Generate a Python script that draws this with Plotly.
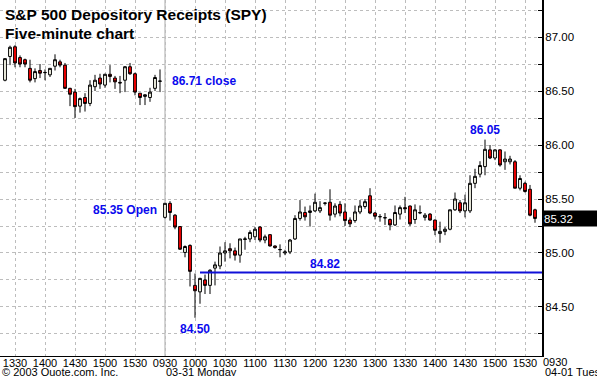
import plotly.graph_objects as go

# ---- Day 1 (03-28), five-minute bars from 13:20 to 15:55 ----
day1_open = [86.60, 86.82, 86.91, 86.81, 86.79, 86.71, 86.615, 86.69, 86.67, 86.65,
             86.73, 86.77, 86.74, 86.525, 86.49, 86.36, 86.44, 86.385, 86.54, 86.62,
             86.555, 86.655, 86.62, 86.58, 86.60, 86.725, 86.66, 86.48, 86.45, 86.44,
             86.525, 86.59]
day1_high = [86.80, 86.92, 86.925, 86.83, 86.80, 86.79, 86.71, 86.75, 86.70, 86.71,
             86.84, 86.79, 86.76, 86.53, 86.52, 86.44, 86.48, 86.60, 86.65, 86.66,
             86.66, 86.74, 86.64, 86.64, 86.73, 86.76, 86.67, 86.48, 86.47, 86.53,
             86.65, 86.70]
day1_low = [86.59, 86.74, 86.72, 86.72, 86.72, 86.58, 86.58, 86.62, 86.60, 86.63,
            86.69, 86.72, 86.52, 86.36, 86.25, 86.30, 86.31, 86.36, 86.50, 86.52,
            86.53, 86.58, 86.52, 86.48, 86.49, 86.65, 86.46, 86.37, 86.37, 86.40,
            86.50, 86.49]
day1_close = [86.80, 86.905, 86.76, 86.75, 86.75, 86.60, 86.68, 86.665, 86.672, 86.71,
              86.79, 86.74, 86.525, 86.47, 86.355, 86.43, 86.385, 86.555, 86.60, 86.565,
              86.655, 86.635, 86.585, 86.575, 86.725, 86.66, 86.49, 86.44, 86.465, 86.49,
              86.625, 86.592]

# ---- Day 2 (03-31 Monday), five-minute bars from 09:30 to 15:40 ----
day2_open = [85.33, 85.46, 85.35, 85.245, 85.005, 85.07, 84.70, 84.64, 84.75, 84.70,
             84.86, 84.88, 85.00, 85.04, 85.02, 84.98, 85.125, 85.13, 85.15, 85.24,
             85.12, 85.17, 85.065, 85.03, 85.00, 85.01, 85.13, 85.32, 85.375, 85.375,
             85.39, 85.39, 85.46, 85.47, 85.36, 85.45, 85.38, 85.305, 85.30, 85.38,
             85.43, 85.53, 85.37, 85.335, 85.325, 85.31, 85.26, 85.36, 85.42, 85.435,
             85.31, 85.375, 85.33, 85.36, 85.305, 85.18, 85.20, 85.22, 85.40, 85.465,
             85.39, 85.39, 85.645, 85.73, 85.80, 85.955, 85.88, 85.955, 85.845, 85.845,
             85.845, 85.60, 85.645, 85.59, 85.40]
day2_high = [85.46, 85.48, 85.36, 85.25, 85.07, 85.08, 84.81, 84.77, 84.80, 84.85,
             84.92, 85.06, 85.10, 85.09, 85.05, 85.13, 85.15, 85.21, 85.24, 85.25,
             85.17, 85.17, 85.07, 85.08, 85.03, 85.13, 85.35, 85.49, 85.43, 85.44,
             85.55, 85.48, 85.47, 85.59, 85.46, 85.48, 85.46, 85.33, 85.44, 85.49,
             85.50, 85.60, 85.38, 85.36, 85.37, 85.32, 85.44, 85.44, 85.52, 85.44,
             85.45, 85.44, 85.37, 85.37, 85.31, 85.29, 85.24, 85.40, 85.56, 85.49,
             85.54, 85.72, 85.78, 85.85, 86.05, 86.00, 85.96, 85.96, 85.94, 85.90,
             85.86, 85.72, 85.66, 85.63, 85.41]
day2_low = [85.32, 85.30, 85.22, 85.03, 84.96, 84.69, 84.40, 84.53, 84.62, 84.62,
            84.70, 84.85, 84.92, 84.95, 84.93, 84.91, 85.03, 85.10, 85.12, 85.10,
            85.09, 85.06, 85.04, 84.96, 84.98, 84.99, 85.12, 85.30, 85.30, 85.245,
            85.38, 85.37, 85.44, 85.30, 85.33, 85.34, 85.25, 85.24, 85.28, 85.36,
            85.41, 85.36, 85.31, 85.29, 85.26, 85.21, 85.25, 85.31, 85.37, 85.25,
            85.27, 85.36, 85.30, 85.30, 85.165, 85.095, 85.165, 85.21, 85.39, 85.37,
            85.33, 85.37, 85.60, 85.70, 85.72, 85.87, 85.86, 85.80, 85.77, 85.82,
            85.60, 85.58, 85.56, 85.34, 85.28]
day2_close = [85.46, 85.375, 85.24, 85.035, 85.06, 84.83, 84.65, 84.765, 84.70, 84.84,
              84.89, 85.00, 85.02, 85.02, 84.98, 85.13, 85.13, 85.19, 85.22, 85.12,
              85.15, 85.065, 85.05, 85.032, 85.01, 85.12, 85.32, 85.38, 85.335, 85.39,
              85.47, 85.42, 85.462, 85.35, 85.435, 85.37, 85.30, 85.27, 85.38, 85.435,
              85.475, 85.37, 85.34, 85.337, 85.327, 85.26, 85.375, 85.42, 85.41, 85.27,
              85.40, 85.372, 85.35, 85.305, 85.21, 85.20, 85.22, 85.40, 85.50, 85.39,
              85.465, 85.645, 85.71, 85.81, 85.96, 85.88, 85.955, 85.815, 85.87, 85.87,
              85.60, 85.69, 85.57, 85.35, 85.32]

# ---- axis labels ----
day1_ticks = ["1330", "1400", "1430", "1500", "1530"]
day2_ticks = ["0930", "1000", "1030", "1100", "1130", "1200", "1230", "1300",
              "1330", "1400", "1430", "1500", "1530"]
next_day_tick = "0930"
day1_start = "1320"
day2_start = "0930"
day2_label = "03-31 Monday"
day3_label = "04-01 Tuesday"
y_ticks = [84.50, 85.00, 85.50, 86.00, 86.50, 87.00]

# ---- annotation values ----
prev_close_text = "86.71 close"
open_text = "85.35 Open"
low_text = "84.50"
support_level = 84.82
high_text = "86.05"

def minutes(hhmm):
    return int(hhmm[:2]) * 60 + int(hhmm[2:])

n1 = len(day1_open)
n2 = len(day2_open)
xs = list(range(n1 + n2))
opens = day1_open + day2_open
highs = day1_high + day2_high
lows = day1_low + day2_low
closes = day1_close + day2_close

tickvals = [(minutes(t) - minutes(day1_start)) / 5 for t in day1_ticks] + \
           [n1 + (minutes(t) - minutes(day2_start)) / 5 for t in day2_ticks]
ticktext = day1_ticks + day2_ticks
next_day_pos = n1 + (minutes("1600") - minutes(day2_start)) / 5

x_range = [-1, 107.4]
y_range = [84.046, 87.343]

def xpaper(v):
    return (v - x_range[0]) / (x_range[1] - x_range[0])

fig = go.Figure()
fig.add_trace(go.Candlestick(
    x=xs, open=opens, high=highs, low=lows, close=closes,
    increasing=dict(fillcolor="#FFFFF0", line=dict(color="black", width=1)),
    decreasing=dict(fillcolor="#FF0000", line=dict(color="black", width=1)),
    whiskerwidth=0, hoverinfo="skip", showlegend=False,
))

# support line from the bar after the low to the right edge
low_idx = n1 + day2_low.index(min(day2_low))
fig.add_trace(go.Scatter(
    x=[low_idx + 1, x_range[1]], y=[support_level, support_level],
    mode="lines", line=dict(color="#1010D8", width=2),
    hoverinfo="skip", showlegend=False,
))

# session separator
fig.add_shape(type="line", xref="x", yref="paper", x0=n1, x1=n1, y0=0, y1=1,
              line=dict(color="#A8A8A8", width=1), layer="below")

blue = "#0A0AEE"
fam = "Liberation Sans, Arial"
bfont = dict(family=fam, size=12, color=blue)
kfont = dict(family=fam, size=11, color="black")
annotations = [
    dict(text="<b>S&P 500 Depository Receipts (SPY)</b>", xref="paper", yref="paper",
         x=0, y=1, xanchor="left", yanchor="top", xshift=3, yshift=-4,
         showarrow=False, font=dict(family=fam, size=15.5, color="black")),
    dict(text="<b>Five-minute chart</b>", xref="paper", yref="paper",
         x=0, y=1, xanchor="left", yanchor="top", xshift=3, yshift=-23,
         showarrow=False, font=dict(family=fam, size=15.5, color="black")),
    dict(text="<b>%s</b>" % prev_close_text, x=n1 + 1.0, y=day1_close[-1],
         xanchor="left", yanchor="middle", showarrow=False, font=bfont),
    dict(text="<b>%s</b>" % open_text, x=n1 - 1.2, y=day2_open[0] + 0.07,
         xanchor="right", yanchor="middle", showarrow=False, font=bfont),
    dict(text="<b>%s</b>" % low_text, x=low_idx, y=min(day2_low),
         xanchor="center", yanchor="top", yshift=-2, showarrow=False, font=bfont),
    dict(text="<b>%.2f</b>" % support_level, x=64, y=support_level,
         xanchor="center", yanchor="bottom", yshift=-1, showarrow=False, font=bfont),
    dict(text="<b>%s</b>" % high_text, x=n1 + day2_high.index(max(day2_high)), y=max(day2_high),
         xanchor="center", yanchor="bottom", yshift=1, showarrow=False, font=bfont),
    dict(text="%.2f" % day2_close[-1], xref="paper", x=1, y=day2_close[-1],
         xanchor="left", yanchor="middle", showarrow=False, bgcolor="black",
         width=52, align="left", height=13,
         font=dict(family=fam, size=11.5, color="white")),
    dict(text=next_day_tick, xref="paper", yref="paper", x=xpaper(next_day_pos), y=0,
         xanchor="center", yanchor="top", yshift=2, showarrow=False, font=kfont),
    dict(text="© 2003 Quote.com, Inc.", xref="paper", yref="paper", x=0, y=0,
         xanchor="left", yanchor="top", xshift=0, yshift=-8, showarrow=False, font=kfont),
    dict(text=day2_label, xref="paper", yref="paper", x=xpaper(n1), y=0,
         xanchor="left", yanchor="top", xshift=-1, yshift=-8, showarrow=False, font=kfont),
    dict(text=day3_label, xref="paper", yref="paper", x=xpaper(next_day_pos), y=0,
         xanchor="left", yanchor="top", xshift=-12, yshift=-8, showarrow=False, font=kfont),
]

fig.update_layout(
    width=597, height=376,
    margin=dict(l=0, r=55, t=0, b=20),
    paper_bgcolor="white", plot_bgcolor="white",
    annotations=annotations, boxgap=0.2,
    font=dict(family=fam, size=11, color="black"),
    xaxis=dict(
        range=x_range, rangeslider=dict(visible=False), automargin=False,
        tickmode="array", tickvals=tickvals, ticktext=ticktext,
        showgrid=True, gridcolor="#BDBDBD", griddash="dot", gridwidth=1,
        showline=True, linecolor="black", linewidth=1, mirror=False,
        ticks="", ticklen=0, zeroline=False, tickfont=dict(size=11),
        ticklabelstandoff=-3,
    ),
    yaxis=dict(
        range=y_range, side="right", tickvals=y_ticks, automargin=False,
        tickformat=".2f",
        showgrid=True, gridcolor="#BDBDBD", griddash="dot", gridwidth=1,
        minor=dict(dtick=0.25, tick0=84.0, showgrid=True, gridcolor="#BDBDBD",
                   griddash="dot", ticks="inside", ticklen=4, tickcolor="black"),
        ticks="inside", ticklen=4, tickcolor="black",
        showline=True, linecolor="black", linewidth=2,
        zeroline=False, tickfont=dict(size=11.5), ticklabelstandoff=-1,
    ),
)

fig.write_html("out.html", config={"displayModeBar": False},
               post_script="document.body.style.margin='0';"
               "document.body.style.padding='0';")
